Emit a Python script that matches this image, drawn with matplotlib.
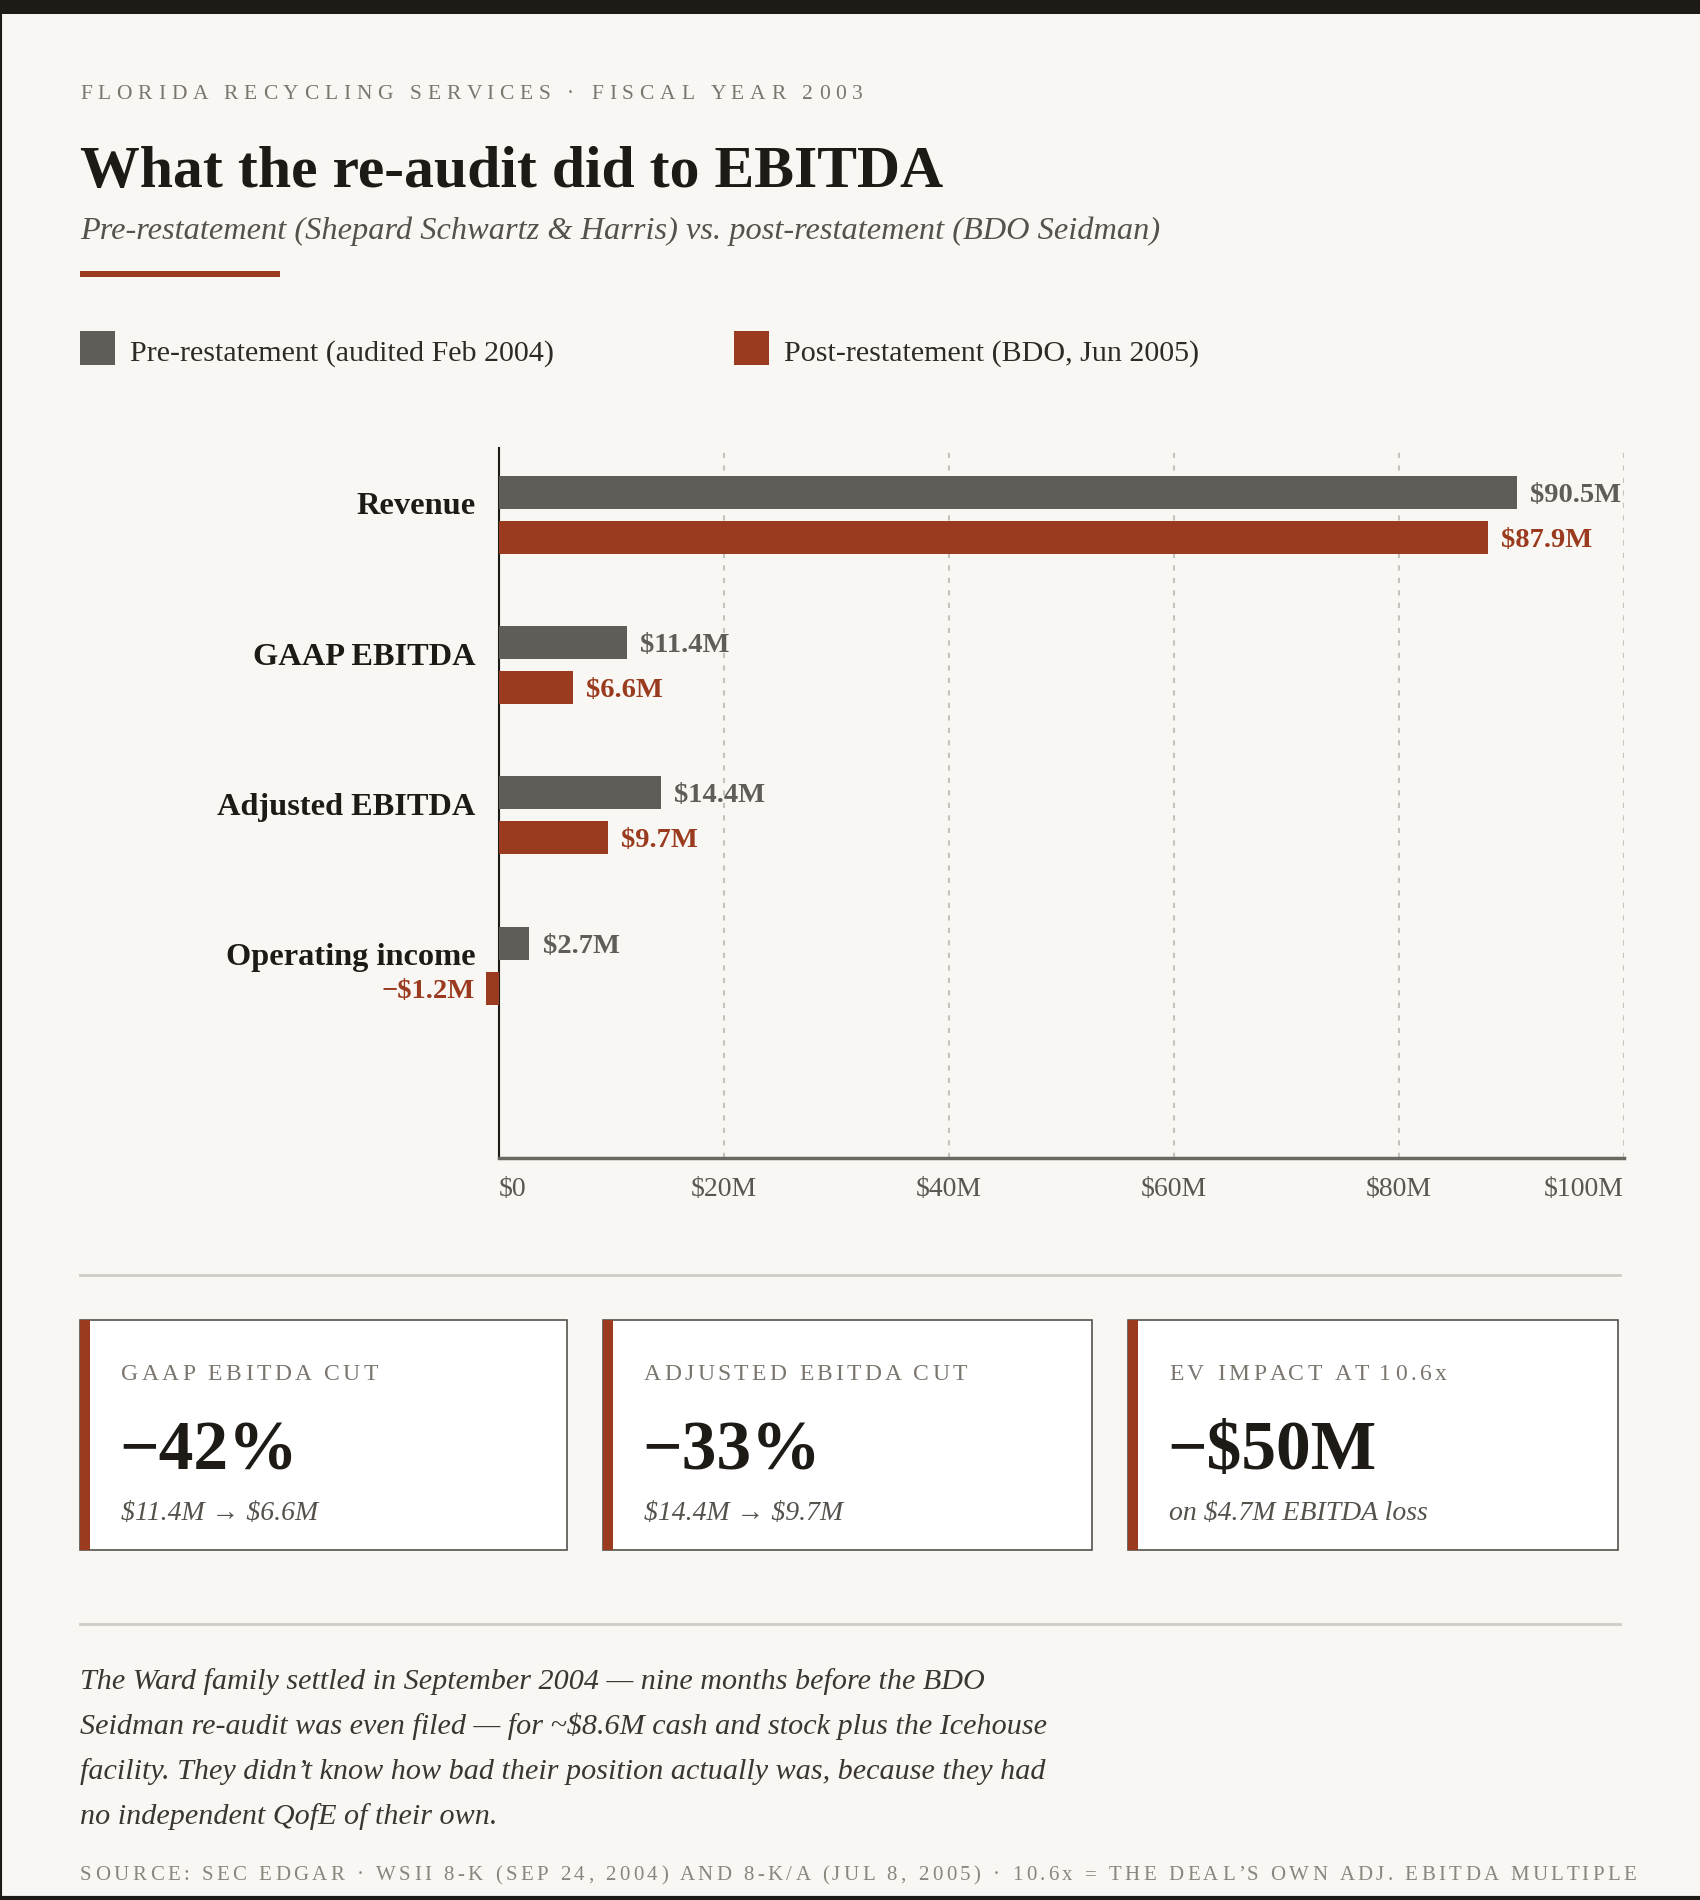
import numpy as np
import matplotlib.pyplot as plt
from matplotlib.patches import Rectangle
from matplotlib.lines import Line2D

plt.rcParams['font.family'] = ['Liberation Serif', 'DejaVu Serif']

# data
categories = ["Revenue", "GAAP EBITDA", "Adjusted EBITDA", "Operating income"]
pre = [90.5, 11.4, 14.4, 2.7]     # Shepard Schwartz & Harris, Feb 2004
post = [87.9, 6.6, 9.7, -1.2]     # BDO Seidman, Jun 2005
tick_vals = [0, 20, 40, 60, 80, 100]
tick_labels = ["$0", "$20M", "$40M", "$60M", "$80M", "$100M"]
legend_labels = ["Pre-restatement (audited Feb 2004)", "Post-restatement (BDO, Jun 2005)"]

card_titles = ["GAAP EBITDA CUT", "ADJUSTED EBITDA CUT", "EV IMPACT AT 10.6x"]
card_values = ["\u221242%", "\u221233%", "\u2212$50M"]
card_notes = ["$11.4M \u2192 $6.6M", "$14.4M \u2192 $9.7M", "on $4.7M EBITDA loss"]

note_lines = [
    "The Ward family settled in September 2004 \u2014 nine months before the BDO",
    "Seidman re-audit was even filed \u2014 for ~$8.6M cash and stock plus the Icehouse",
    "facility. They didn\u2019t know how bad their position actually was, because they had",
    "no independent QofE of their own.",
]
source = ("SOURCE: SEC EDGAR \u00b7 WSII 8-K (SEP 24, 2004) AND 8-K/A (JUL 8, 2005) \u00b7 "
          "10.6x = THE DEAL\u2019S OWN ADJ. EBITDA MULTIPLE")

# colours
BG = "#f9f7f3"
INK = "#1e1a16"
GRAY = "#5e5d58"
RED = "#9a3a1e"
MUTED = "#7a756d"

W, H = 1700, 1900
fig = plt.figure(figsize=(17, 19), dpi=100, facecolor=BG)
renderer = fig.canvas.get_renderer()


def fx(x):
    return x / W


def fy(y):
    return 1 - y / H


def txt(x, y, s, **kw):
    return fig.text(fx(x), fy(y), s, parse_math=False, **kw)


def box(x, y, w, h, **kw):
    fig.add_artist(Rectangle((fx(x), fy(y + h)), w / W, h / H,
                             transform=fig.transFigure, **kw))


def hline(x0, x1, y, **kw):
    fig.add_artist(Line2D([fx(x0), fx(x1)], [fy(y), fy(y)],
                          transform=fig.transFigure, **kw))


def tracked(x, y, s, width, **kw):
    # letter-spaced caps: place each char, spreading to the wanted width
    probe = fig.text(0, 0, "H", parse_math=False, **kw)
    wH = probe.get_window_extent(renderer).width
    offs = []
    for i in range(len(s)):
        probe.set_text(s[:i] + "H")
        offs.append(probe.get_window_extent(renderer).width - wH)
    probe.set_text(s)
    natural = probe.get_window_extent(renderer).width
    probe.remove()
    track = (width - natural) / (len(s) - 1)
    for i, ch in enumerate(s):
        if ch != " ":
            txt(x + offs[i] + i * track, y, ch, ha="left", va="baseline", **kw)


# frame
box(0, 0, W, 14, color=INK, lw=0)
fig.add_artist(Line2D([0.0006, 0.0006], [0, 1], transform=fig.transFigure, color=INK, lw=1.5))
hline(0, W, 1898, color=INK, lw=3)

# header
tracked(80, 99, "FLORIDA RECYCLING SERVICES \u00b7 FISCAL YEAR 2003", 783, fontsize=15.5, color=MUTED)
txt(80, 187, "What the re-audit did to EBITDA", fontsize=43, fontweight="bold", color=INK, va="baseline")
txt(80, 239, "Pre-restatement (Shepard Schwartz & Harris) vs. post-restatement (BDO Seidman)",
    fontsize=23.3, style="italic", color="#55514b", va="baseline")
box(80, 271, 200, 6, color=RED, lw=0)

# legend
for lx, lab, col in zip([80, 734], legend_labels, [GRAY, RED]):
    box(lx, 331, 35, 34, color=col, lw=0)
    txt(lx + 50, 361, lab, fontsize=21.6, color="#2e2a26", va="baseline")

# chart
ax = fig.add_axes([fx(499), fy(1158), (1624 - 499) / W, (1158 - 448) / H])
ax.set_facecolor("none")
y = np.arange(len(categories))
ax.barh(y - 0.15, pre, height=0.22, color=GRAY, zorder=3)
ax.barh(y + 0.15, post, height=0.22, color=RED, zorder=3, clip_on=False)
ax.set_xlim(0, 100)
ax.set_ylim(len(categories) - 1 + 1.28, -0.444)

for yy, v, col in [(yy - 0.15, v, GRAY) for yy, v in zip(y, pre)] + \
        [(yy + 0.15, v, RED) for yy, v in zip(y, post)]:
    lab = f"${v:.1f}M" if v >= 0 else f"\u2212${-v:.1f}M"
    ax.annotate(lab, (v, yy), xytext=(9.5 if v >= 0 else -8, 0), textcoords="offset points",
                ha="left" if v >= 0 else "right", va="center_baseline", parse_math=False,
                fontsize=20.5, fontweight="bold", color=col, annotation_clip=False)

for yy, cat in zip(y, categories):
    ax.annotate(cat, (0, yy - 0.075), xycoords=("axes fraction", "data"), xytext=(-17, 0),
                textcoords="offset points", ha="right", va="center_baseline",
                fontsize=23.3, fontweight="bold", color=INK)

ax.set_xticks(tick_vals)
ax.set_xticklabels(tick_labels)
tl = ax.get_xticklabels()
tl[0].set_ha("left")
tl[-1].set_ha("right")
ax.set_yticks([])
ax.tick_params(axis="x", length=0, pad=14, labelsize=20, labelcolor="#5a5650")
ax.xaxis.grid(True, linestyle=(0, (2.5, 3.5)), color="#c6c3bd", lw=1.5)
ax.set_axisbelow(True)
for s in ["top", "right"]:
    ax.spines[s].set_visible(False)
ax.spines["left"].set_color(INK)
ax.spines["left"].set_linewidth(1.5)
ax.spines["bottom"].set_color("#6b6862")
ax.spines["bottom"].set_linewidth(2.5)

# dividers
hline(80, 1620, 1275, color="#d0ccc5", lw=2)
hline(80, 1620, 1624, color="#d0ccc5", lw=2)

# stat cards
card_w = [487, 489, 490]
card_widths = [257, 323, 278]
for cx, cw, title, val, note, tw in zip([80, 603, 1128], card_w, card_titles,
                                         card_values, card_notes, card_widths):
    box(cx, 1320, cw, 230, facecolor="white", edgecolor="#55524d", lw=1.2)
    box(cx, 1320, 10, 230, color=RED, lw=0)
    tracked(cx + 41, 1380, title, tw, fontsize=17, color=MUTED)
    txt(cx + 39, 1469, val, fontsize=50, fontweight="bold", color=INK, va="baseline")
    txt(cx + 41, 1520, note, fontsize=20, style="italic", color="#55514b", va="baseline")

# closing note
for i, line in enumerate(note_lines):
    txt(80, 1689 + i * 45, line, fontsize=21.7, style="italic", color="#3b3631", va="baseline")

tracked(80, 1880, source, 1556, fontsize=15, color="#8a857d")

fig.savefig("out.png", dpi=100, facecolor=BG)
